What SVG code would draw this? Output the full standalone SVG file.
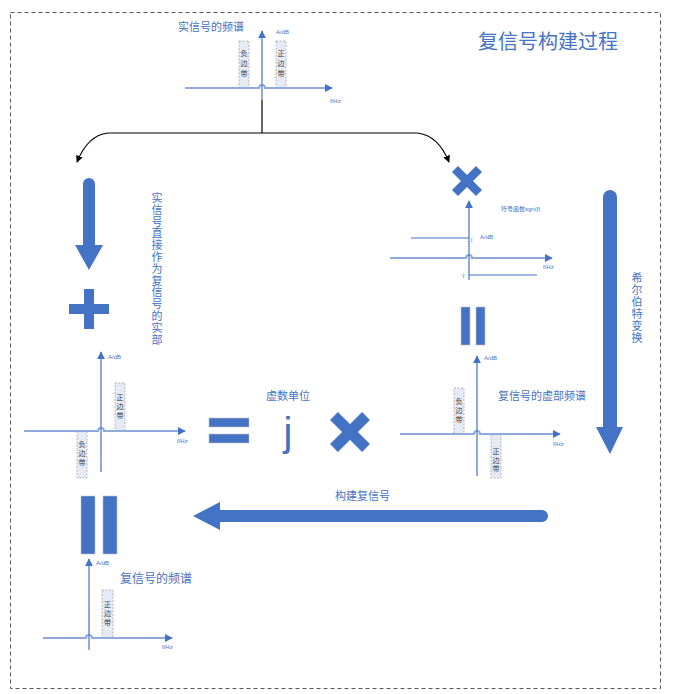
<svg xmlns="http://www.w3.org/2000/svg" width="679" height="694" viewBox="0 0 679 694">
<style>
.cjk{font-family:"Noto Sans CJK SC","Liberation Sans",sans-serif;fill:#4472C4}
.lbl{font-size:11px}
.vt{text-anchor:middle}
.tiny{font-family:"Liberation Sans","Noto Sans CJK SC",sans-serif;font-size:6px;fill:#4472C4}
.vax{stroke:#4472C4;stroke-width:1.2;fill:none}
.hax{stroke:#8FAADC;stroke-width:2;fill:none}
.band{fill:#E6EAF4;stroke:#A6A6A6;stroke-width:0.8;stroke-dasharray:2,1.5}
.bt{font-family:"Noto Sans CJK SC",sans-serif;font-size:7px;fill:#404040;text-anchor:middle}
.blue{fill:#4472C4}
.conn{stroke:#000;stroke-width:1.2;fill:none}
.sig{stroke:#4472C4;stroke-width:1.2;fill:none}
</style>
<defs>
<marker id="ax" viewBox="0 0 10 10" refX="9" refY="5" markerWidth="8" markerHeight="8" markerUnits="userSpaceOnUse" orient="auto"><path d="M0,0 L10,5 L0,10 z" fill="#4472C4"/></marker>
<marker id="bk" viewBox="0 0 10 10" refX="9" refY="5" markerWidth="7" markerHeight="7" markerUnits="userSpaceOnUse" orient="auto"><path d="M0,0 L10,5 L0,10 z" fill="#000"/></marker>
</defs>
<rect x="0" y="0" width="679" height="694" fill="#fff"/>
<rect x="10.5" y="12.5" width="650" height="676" fill="none" stroke="#595959" stroke-width="1" stroke-dasharray="4,3"/>

<text id="title" class="cjk" x="478" y="49" font-size="20">复信号构建过程</text>

<g id="spec-real">
<text class="cjk lbl" x="178" y="31">实信号的频谱</text>
<rect class="band" x="239" y="41" width="10" height="47"/>
<text class="bt" x="244 244 244" y="56 66 76">负边带</text>
<rect class="band" x="276" y="41" width="10" height="47"/>
<text class="bt" x="281 281 281" y="56 66 76">正边带</text>
<path class="hax" d="M185,88 H259 a3,3 0 0 1 6,0 H332" marker-end="url(#ax)"/>
<path class="vax" d="M262,100 V31" marker-end="url(#ax)"/>
<text class="tiny" x="276" y="34">A/dB</text>
<text class="tiny" x="330" y="103">f/Hz</text>
</g>

<g id="connectors">
<path class="conn" d="M262,100 V133"/>
<path class="conn" d="M262,133 H108 Q88,135 77,162" marker-end="url(#bk)"/>
<path class="conn" d="M262,133 H417 Q438,135 449,162" marker-end="url(#bk)"/>
</g>

<g id="arrow-left-down">
<path class="blue" d="M83,184 a6,6 0 0 1 12,0 V245 H103 L89,270 L75,245 H83 Z"/>
</g>
<text id="real-part-label" class="cjk lbl vt" x="157 157 157 157 157 157 157 157 157 157 157 157 157" y="202 213.8 225.6 237.4 249.2 261 272.8 284.6 296.4 308.2 320 331.8 343.6">实信号直接作为复信号的实部</text>

<g id="plus">
<rect class="blue" x="84" y="289" width="10" height="40"/>
<rect class="blue" x="69" y="304" width="40" height="10"/>
</g>

<g id="spec-left">
<rect class="band" x="115" y="383" width="10" height="48"/>
<text class="bt" x="120 120 120" y="400 409 418">正边带</text>
<rect class="band" x="77" y="431" width="10" height="47"/>
<text class="bt" x="82 82 82" y="447 456 465">负边带</text>
<path class="hax" d="M24,431 H98 a3,3 0 0 1 6,0 H185" marker-end="url(#ax)"/>
<path class="vax" d="M101,472 V352" marker-end="url(#ax)"/>
<text class="tiny" x="108" y="359">A/dB</text>
<text class="tiny" x="177" y="443">f/Hz</text>
</g>

<g id="equals">
<rect class="blue" x="209" y="418" width="40" height="9" stroke="#BFBFBF" stroke-width="0.6"/>
<rect class="blue" x="209" y="434" width="40" height="9" stroke="#BFBFBF" stroke-width="0.6"/>
</g>

<g id="imag-unit">
<text class="cjk lbl" x="266" y="400">虚数单位</text>
<text x="288" y="446" font-family="Liberation Sans, sans-serif" font-size="40" fill="#4472C4" text-anchor="middle">j</text>
</g>

<g id="times-mid">
<path d="M334,416 L366,448 M366,416 L334,448" stroke="#4472C4" stroke-width="11" fill="none"/>
</g>

<g id="times-top">
<path d="M455,169 L479,193 M479,169 L455,193" stroke="#4472C4" stroke-width="8.5" fill="none"/>
</g>

<g id="sgn">
<text class="tiny" x="501" y="211">符号函数sgn(f)</text>
<path class="hax" d="M390,258 H466 a3,3 0 0 1 6,0 H552" marker-end="url(#ax)"/>
<path class="vax" d="M469,280 V201" marker-end="url(#ax)"/>
<path class="sig" d="M411,238 H469"/>
<path class="sig" d="M469,275 H537"/>
<text class="tiny" x="471" y="241">j</text>
<text class="tiny" x="480" y="239">A/dB</text>
<text class="tiny" x="461" y="277">-j</text>
<text class="tiny" x="543" y="269">f/Hz</text>
</g>

<g id="equals-v-right">
<rect class="blue" x="461" y="307" width="9" height="38" stroke="#BFBFBF" stroke-width="0.6"/>
<rect class="blue" x="476" y="307" width="9" height="38" stroke="#BFBFBF" stroke-width="0.6"/>
</g>

<g id="spec-imag">
<text class="cjk lbl" x="498" y="400">复信号的虚部频谱</text>
<rect class="band" x="454" y="388" width="10" height="46"/>
<text class="bt" x="459 459 459" y="404 413 422">负边带</text>
<rect class="band" x="491" y="434" width="10" height="44"/>
<text class="bt" x="496 496 496" y="454 462.5 471">正边带</text>
<path class="hax" d="M400,434 H474 a3,3 0 0 1 6,0 H560" marker-end="url(#ax)"/>
<path class="vax" d="M477,476 V356" marker-end="url(#ax)"/>
<text class="tiny" x="484" y="360">A/dB</text>
<text class="tiny" x="553" y="446">f/Hz</text>
</g>

<g id="arrow-right-down">
<path class="blue" d="M603,197 a7,7 0 0 1 14,0 V427 H623 L610,454 L596,427 H603 Z"/>
</g>
<text id="hilbert-label" class="cjk lbl vt" x="637 637 637 637 637 637" y="282 294 306 318 330 342">希尔伯特变换</text>

<g id="arrow-build">
<text class="cjk lbl" x="335" y="500">构建复信号</text>
<path class="blue" d="M542,510 a6,6 0 0 1 0,12 H220 V530 L193,516 L220,502 V510 Z"/>
</g>

<g id="equals-v-left">
<rect class="blue" x="81" y="496" width="14" height="58" stroke="#BFBFBF" stroke-width="0.6"/>
<rect class="blue" x="103" y="496" width="14" height="58" stroke="#BFBFBF" stroke-width="0.6"/>
</g>

<g id="spec-complex">
<text class="cjk" x="120" y="583" font-size="12">复信号的频谱</text>
<rect class="band" x="102" y="590" width="11" height="48"/>
<text class="bt" x="107.5 107.5 107.5" y="607 616 625">正边带</text>
<path class="hax" d="M43,638 H86 a3,3 0 0 1 6,0 H172" marker-end="url(#ax)"/>
<path class="vax" d="M89,650 V559" marker-end="url(#ax)"/>
<text class="tiny" x="96" y="565">A/dB</text>
<text class="tiny" x="162" y="649">f/Hz</text>
</g>
</svg>
